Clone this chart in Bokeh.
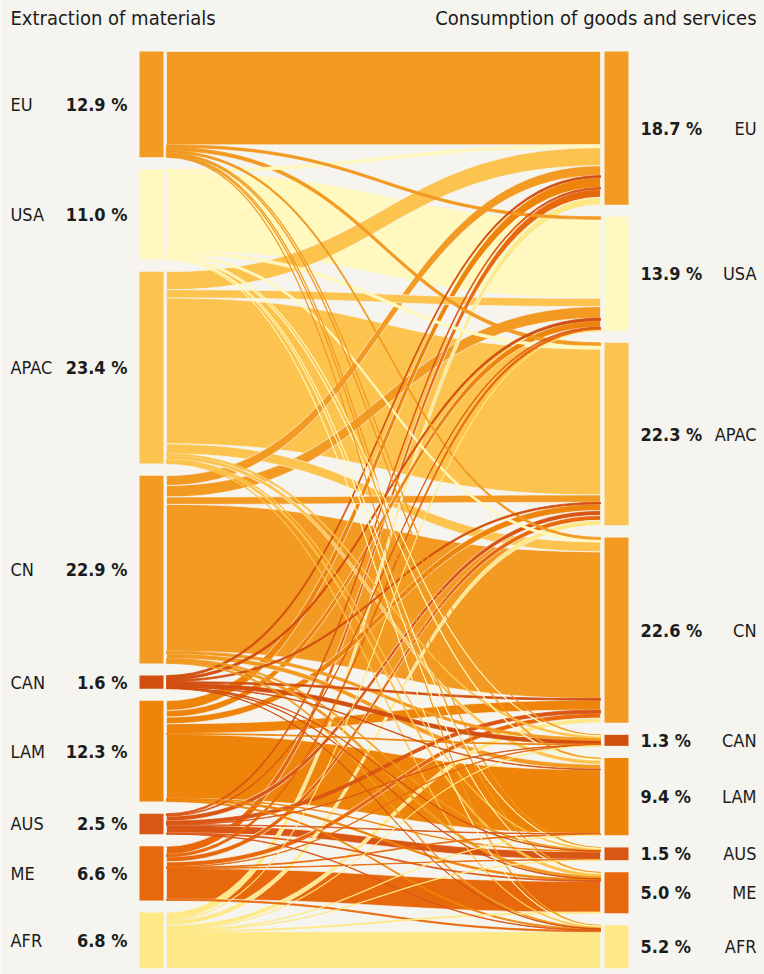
import numpy as np
from bokeh.plotting import figure
from bokeh.models import Range1d, ColumnDataSource
from bokeh.core.properties import value
from bokeh.embed import file_html
from bokeh.resources import INLINE

# ---------------- data ----------------
regions = ["EU", "USA", "APAC", "CN", "CAN", "LAM", "AUS", "ME", "AFR"]
extraction_pct = [12.9, 11.0, 23.4, 22.9, 1.6, 12.3, 2.5, 6.6, 6.8]
consumption_pct = [18.7, 13.9, 22.3, 22.6, 1.3, 9.4, 1.5, 5.0, 5.2]

# share of world total (%) flowing from extraction region -> consumption region
# (targets in the order of `regions`)
flows_EU   = [11.38, 0.3, 0.4, 0.25, 0.1, 0.15, 0.1, 0.12, 0.1]
flows_USA  = [0.35, 9.65, 0.35, 0.3, 0.08, 0.12, 0.05, 0.06, 0.04]
flows_APAC = [2.2, 1.0, 17.8, 1.2, 0.2, 0.5, 0.12, 0.28, 0.1]
flows_CN   = [1.2, 1.4, 0.9, 17.9, 0.3, 0.6, 0.15, 0.3, 0.15]
flows_CAN  = [0.25, 0.3, 0.2, 0.2, 0.45, 0.06, 0.04, 0.06, 0.04]
flows_LAM  = [1.2, 0.8, 0.8, 1.2, 0.1, 7.8, 0.06, 0.2, 0.14]
flows_AUS  = [0.2, 0.1, 0.6, 0.4, 0.04, 0.05, 0.95, 0.1, 0.06]
flows_ME   = [1.0, 0.3, 0.6, 0.6, 0.05, 0.1, 0.05, 3.75, 0.15]
flows_AFR  = [0.9, 0.05, 0.6, 0.55, 0.03, 0.05, 0.04, 0.12, 4.46]

region_colors = ["#f29a21", "#fff8bf", "#fcc44e", "#f29a21", "#d24f10",
                 "#ee8409", "#da5614", "#e8690b", "#ffe986"]

left_title = "Extraction of materials"
right_title = "Consumption of goods and services"

# ---------------- style / layout ----------------
BG = "#f5f4ef"
TXT = "#1c1c1c"
FONT = "DejaVu Sans Condensed"
W, H = 764, 974
TOP = 51.0       # px of first node top
K = 8.2          # px per percent
GAP = 12.1       # px between nodes
LX0, LX1 = 139, 163    # left node bar
RX0, RX1 = 604, 628    # right node bar
FX0, FX1 = 166, 600    # flow ends

M = np.array([flows_EU, flows_USA, flows_APAC, flows_CN, flows_CAN,
              flows_LAM, flows_AUS, flows_ME, flows_AFR])
out_tot = M.sum(axis=1)
in_tot = M.sum(axis=0)
n = len(regions)

def node_tops(totals):
    tops = []
    y = TOP
    for tt in totals:
        tops.append(y)
        y += tt * K + GAP
    return tops

ltop = node_tops(out_tot)
rtop = node_tops(in_tot)

p = figure(width=W, height=H, x_range=Range1d(0, W), y_range=Range1d(H, 0),
           x_axis_type=None, y_axis_type=None, toolbar_location=None,
           output_backend="svg", min_border=0, outline_line_color=None,
           background_fill_color=BG, border_fill_color=BG)
p.grid.visible = False

# source side ordered by target, target side ordered by source
s_pos = {}
for i in range(n):
    y = ltop[i]
    for j in range(n):
        s_pos[(i, j)] = y
        y += M[i, j] * K
t_pos = {}
for j in range(n):
    y = rtop[j]
    for i in range(n):
        t_pos[(i, j)] = y
        y += M[i, j] * K

t = np.linspace(0, 1, 48)
xm = (FX0 + FX1) / 2.0
bx = (1 - t) ** 3 * FX0 + 3 * (1 - t) ** 2 * t * xm + 3 * (1 - t) * t ** 2 * xm + t ** 3 * FX1

def bez_y(y0, y1):
    return (1 - t) ** 3 * y0 + 3 * (1 - t) ** 2 * t * y0 + 3 * (1 - t) * t ** 2 * y1 + t ** 3 * y1

links = [(M[i, j], i, j) for i in range(n) for j in range(n) if M[i, j] > 0]
links.sort(key=lambda r: -r[0])

xs, ys, cols, lcols, lws = [], [], [], [], []
for v, i, j in links:
    w = v * K
    sy0 = s_pos[(i, j)]
    ty0 = t_pos[(i, j)]
    upper = bez_y(sy0, ty0)
    lower = bez_y(sy0 + w, ty0 + w)
    xs.append(list(bx) + list(bx[::-1]))
    ys.append(list(upper) + list(lower[::-1]))
    cols.append(region_colors[i])
    if w > 4:
        lcols.append(BG)
        lws.append(0.8)
    else:
        lcols.append(region_colors[i])
        lws.append(0.9)

p.patches(xs="xs", ys="ys", fill_color="c", line_color="lc", line_width="lw",
          line_alpha=0.9,
          source=ColumnDataSource(dict(xs=xs, ys=ys, c=cols, lc=lcols, lw=lws)))

# nodes
p.quad(left=LX0, right=LX1, top=ltop, bottom=[ltop[i] + out_tot[i] * K for i in range(n)],
       fill_color=region_colors, line_color=None)
p.quad(left=RX0, right=RX1, top=rtop, bottom=[rtop[j] + in_tot[j] * K for j in range(n)],
       fill_color=region_colors, line_color=None)

lmid = [ltop[i] + out_tot[i] * K / 2 for i in range(n)]
rmid = [rtop[j] + in_tot[j] * K / 2 for j in range(n)]

def txt(x, y, s, align, size, bold=False):
    p.text(x=x, y=y, text=s, text_align=align, text_baseline="middle",
           text_font=value(FONT), text_font_size=value(size),
           text_font_style="bold" if bold else "normal", text_color=TXT)

txt([10] * n, lmid, regions, "left", "18px")
txt([127] * n, lmid, ["%.1f %%" % v for v in extraction_pct], "right", "18px", True)
txt([640] * n, rmid, ["%.1f %%" % v for v in consumption_pct], "left", "18px", True)
txt([756] * n, rmid, regions, "right", "18px")

txt([10], [17], [left_title], "left", "20px")
txt([756], [17], [right_title], "right", "20px")

open("out.html", "w").write(file_html(p, INLINE))
